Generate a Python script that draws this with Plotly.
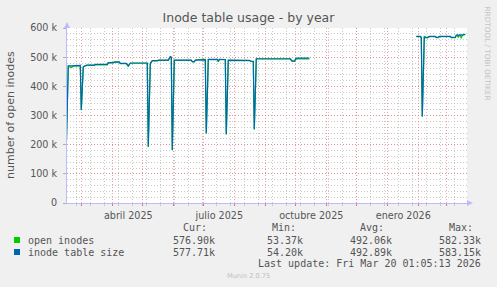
import plotly.graph_objects as go

# ---------------- data ----------------
dates = [
    "2025-02-13", "2025-02-16", "2025-02-19", "2025-02-21", "2025-02-26", "2025-02-27",
    "2025-02-28", "2025-03-01", "2025-03-03", "2025-03-05", "2025-03-07", "2025-03-14",
    "2025-03-15", "2025-03-27", "2025-03-28", "2025-04-02", "2025-04-03", "2025-04-08",
    "2025-04-09", "2025-04-15", "2025-04-17", "2025-04-19", "2025-05-06", "2025-05-07",
    "2025-05-09", "2025-05-10", "2025-05-11", "2025-05-16", "2025-05-17", "2025-05-27",
    "2025-05-28", "2025-05-29", "2025-05-30", "2025-05-31", "2025-06-02", "2025-06-19",
    "2025-06-20", "2025-06-22", "2025-06-23", "2025-06-26", "2025-07-03", "2025-07-04",
    "2025-07-06", "2025-07-15", "2025-07-16", "2025-07-17", "2025-07-23", "2025-07-24",
    "2025-07-26", "2025-08-16", "2025-08-18", "2025-08-20", "2025-08-21", "2025-08-23",
    "2025-09-26", "2025-09-28", "2025-09-30", "2025-10-02", "2025-10-15", "2025-10-16",
    "2026-01-30", "2026-02-03", "2026-02-04", "2026-02-05", "2026-02-07", "2026-02-10",
    "2026-02-12", "2026-02-18", "2026-02-19", "2026-02-21", "2026-02-22", "2026-03-05",
    "2026-03-06", "2026-03-10", "2026-03-11", "2026-03-12", "2026-03-13", "2026-03-14",
    "2026-03-15", "2026-03-16", "2026-03-17", "2026-03-18", "2026-03-19", "2026-03-20",
]
inode_table_size = [
    54200, 470000, 470000, 470000, 470500, 472000,
    472000, 319000, 467000, 471000, 473000, 473000,
    475500, 475500, 481000, 481000, 483000, 483000,
    479000, 479000, 470000, 480000, 480000, 193000,
    478000, 484000, 488000, 488000, 490000, 490000,
    497000, 502000, 500000, 182000, 490000, 490000,
    485000, 485000, 490000, 490000, 491000, 239000,
    492500, 492500, 487000, 492500, 492000, 235500,
    490000, 489000, 486000, 486000, 252600, 494500,
    494500, 486500, 486500, 496500, 496500, None,
    571400, 571000, 568000, 297500, 568000, 567000,
    571000, 571000, 568000, 568000, 571000, 571000,
    568000, 568000, 575000, 576000, 574000, 576000,
    575000, 577000, 576000, 577500, 578500, 577710,
]
open_inodes = [
    53370, 469200, 464500, 469200, 469700, 471200,
    471200, 318200, 466200, 470200, 472200, 472200,
    473500, 473500, 480200, 480200, 483600, 483600,
    478200, 478200, 469200, 479200, 479200, 192200,
    477200, 483200, 487200, 487200, 489200, 489200,
    496200, 501200, 499200, 181200, 489200, 489200,
    484200, 484200, 489200, 492000, 492500, 238200,
    491700, 491700, 484000, 491700, 491200, 234700,
    489200, 488200, 485200, 485200, 251800, 493700,
    493700, 485700, 485700, 494000, 494000, None,
    570600, 570200, 567200, 296000, 571000, 566200,
    570200, 570200, 567200, 567200, 570200, 570200,
    567200, 567200, 574200, 575000, 567000, 575200,
    574000, 565000, 575200, 576500, 577700, 576900,
]

month_starts = ["2025-03-01", "2025-04-01", "2025-05-01", "2025-06-01", "2025-07-01",
                "2025-08-01", "2025-09-01", "2025-10-01", "2025-11-01", "2025-12-01",
                "2026-01-01", "2026-02-01", "2026-03-01"]
month_labels = ["", "abril 2025", "", "", "julio 2025", "", "", "octubre 2025", "", "",
                "enero 2026", "", ""]
y_ticks = [0, 100000, 200000, 300000, 400000, 500000, 600000]
y_labels = ["0", "100 k", "200 k", "300 k", "400 k", "500 k", "600 k"]

series_names = ["open inodes", "inode table size"]
series_colors = ["#00CC00", "#0066B3"]
stat_headers = ["Cur:", "Min:", "Avg:", "Max:"]
stats = [["576.90k", "53.37k", "492.06k", "582.33k"],
         ["577.71k", "54.20k", "492.89k", "583.15k"]]

# ---------------- layout geometry ----------------
W, H = 497, 287
L, R, T, B = 67, 467, 28, 203


def px(x):
    return (x - L) / (R - L)


def py(y):
    return (B - y) / (B - T)


TXT = "#555555"
MAJ = "rgba(230,120,120,0.7)"
MIN = "rgba(180,180,180,0.7)"
AXC = "#BBBBFF"
DASH = "1px,2px"

fig = go.Figure()
fig.add_trace(go.Scatter(x=dates, y=open_inodes, mode="lines", name=series_names[0],
                         line=dict(color=series_colors[0], width=1.2), connectgaps=False))
fig.add_trace(go.Scatter(x=dates, y=inode_table_size, mode="lines", name=series_names[1],
                         line=dict(color=series_colors[1], width=1.2), connectgaps=False))

fig.update_layout(
    width=W, height=H,
    margin=dict(l=L, r=W - R, t=T, b=H - B, pad=0),
    paper_bgcolor="#F0F0F0", plot_bgcolor="#FFFFFF",
    showlegend=False,
    font=dict(family="DejaVu Sans", size=10, color=TXT),
    title=dict(text="Inode table usage - by year", x=0.5, xanchor="center",
               y=1 - 18 / H, yanchor="middle", font=dict(size=12.5, color=TXT)),
    xaxis=dict(
        type="date",
        range=["2025-02-14 17:00", "2026-03-21 17:00"],
        tickmode="array", tickvals=month_starts, ticktext=month_labels,
        ticklabelshift=16, ticklabelstandoff=1,
        showgrid=True, gridcolor=MAJ, griddash=DASH, gridwidth=1,
        ticks="outside", ticklen=2, tickcolor="#E07070", tickwidth=1,
        tickfont=dict(size=9.6, color=TXT),
        showline=True, linecolor=AXC, linewidth=1,
        zeroline=False, fixedrange=True,
        minor=dict(tickmode="linear", tick0="2025-11-17", dtick=14 * 86400000,
                   showgrid=True, gridcolor=MIN, griddash=DASH, gridwidth=1,
                   ticks="outside", ticklen=2, tickcolor="#C8C8C8"),
    ),
    yaxis=dict(
        range=[0, 600000],
        tickmode="array", tickvals=y_ticks, ticktext=y_labels,
        showgrid=True, gridcolor=MAJ, griddash=DASH, gridwidth=1,
        ticks="outside", ticklen=3, tickcolor="#B0B0B0",
        ticklabelstandoff=4,
        tickfont=dict(size=9.6, color=TXT),
        showline=True, linecolor=AXC, linewidth=1,
        zeroline=False, fixedrange=True,
        minor=dict(tickmode="linear", tick0=0, dtick=20000,
                   showgrid=True, gridcolor=MIN, griddash=DASH, gridwidth=1),
    ),
)

ann = []
ann.append(dict(text="number of open inodes", x=px(10), y=py(115), xref="paper", yref="paper",
                textangle=-90, showarrow=False, xanchor="center", yanchor="middle",
                font=dict(size=11, color=TXT)))
ann.append(dict(text="RRDTOOL / TOBI OETIKER", x=px(487.5), y=py(53), xref="paper", yref="paper",
                textangle=90, showarrow=False, xanchor="center", yanchor="middle",
                font=dict(size=7.3, color="#C4C4C4")))
MONO = "DejaVu Sans Mono"
head_x = [181, 270, 358, 447]
val_x = [217, 305, 394, 483]
for hx, h in zip(head_x, stat_headers):
    ann.append(dict(text=h, x=px(hx), y=py(227.5), xref="paper", yref="paper", showarrow=False,
                    xanchor="left", yanchor="middle", font=dict(family=MONO, size=10, color=TXT)))
row_y = [240, 252]
for i, name in enumerate(series_names):
    ann.append(dict(text=name, x=px(26), y=py(row_y[i]), xref="paper", yref="paper",
                    showarrow=False, xanchor="left", yanchor="middle",
                    font=dict(family=MONO, size=10, color=TXT)))
    for vx, v in zip(val_x, stats[i]):
        ann.append(dict(text=v, x=px(vx), y=py(row_y[i]), xref="paper", yref="paper",
                        showarrow=False, xanchor="right", yanchor="middle",
                        font=dict(family=MONO, size=10, color=TXT)))
ann.append(dict(text="Last update: Fri Mar 20 01:05:13 2026", x=px(483), y=py(263.5),
                xref="paper", yref="paper", showarrow=False, xanchor="right", yanchor="middle",
                font=dict(family=MONO, size=10, color=TXT)))
ann.append(dict(text="Munin 2.0.75", x=px(248), y=py(276), xref="paper", yref="paper",
                showarrow=False, xanchor="center", yanchor="middle",
                font=dict(size=6.6, color="#C0C0C0")))
fig.update_layout(annotations=ann)

shapes = []
for i, c in enumerate(series_colors):
    y0 = row_y[i] - 3
    shapes.append(dict(type="rect", xref="paper", yref="paper", x0=px(14), x1=px(20),
                       y0=py(y0 + 6), y1=py(y0), fillcolor=c, line=dict(width=0)))
shapes.append(dict(type="path", xref="paper", yref="paper",
                   path=f"M {px(R)} {py(B-3)} L {px(R+6)} {py(B)} L {px(R)} {py(B+3)} Z",
                   fillcolor=AXC, line=dict(width=0)))
shapes.append(dict(type="path", xref="paper", yref="paper",
                   path=f"M {px(L-3)} {py(T)} L {px(L)} {py(T-6)} L {px(L+3)} {py(T)} Z",
                   fillcolor=AXC, line=dict(width=0)))
fig.update_layout(shapes=shapes)

fig.write_html("out.html")
